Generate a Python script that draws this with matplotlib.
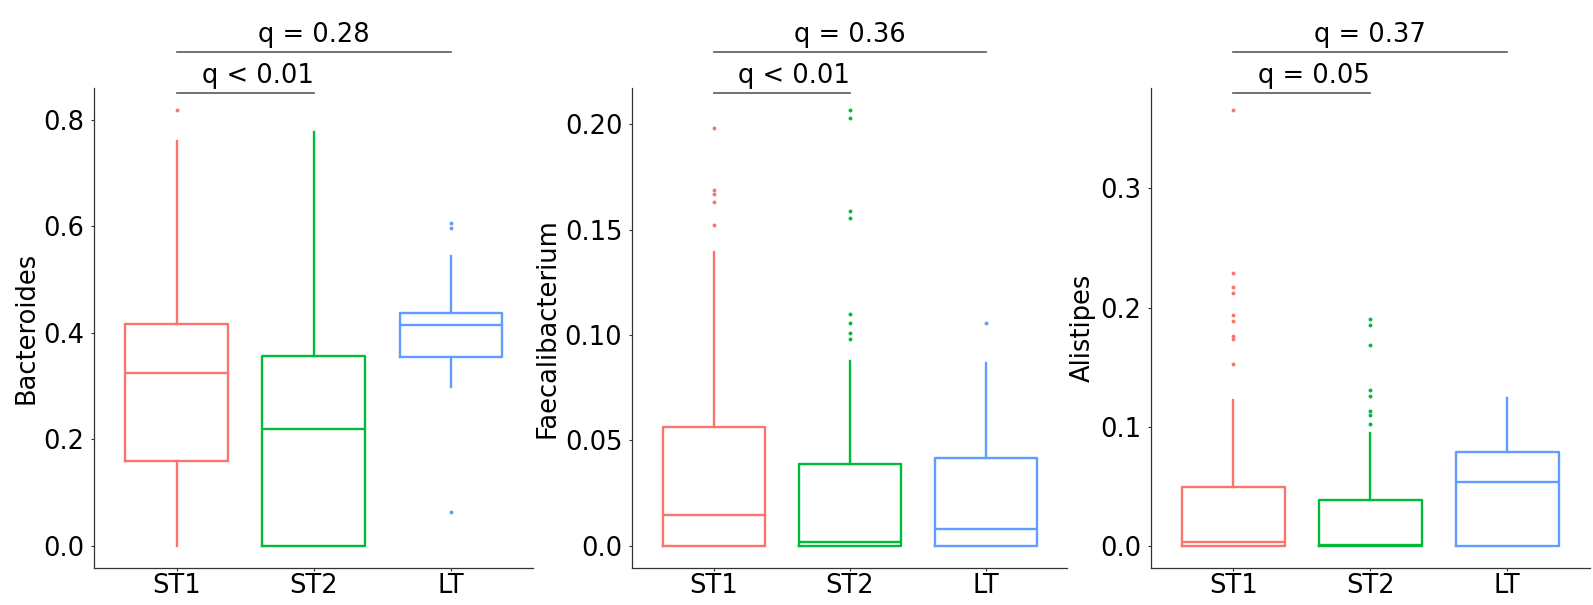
"""
Boxplots de abundância relativa (Bacteroides, Faecalibacterium, Alistipes) por grupo.
"""
import matplotlib
matplotlib.use("Agg")
import matplotlib.pyplot as plt
import matplotlib.transforms as mtransforms

groups = ["ST1", "ST2", "LT"]
colors = ["#F8766D", "#00BA38", "#619CFF"]
pairs = [(1, 2), (1, 3)]

# Bacteroides
bac_q1 = [0.159, 0.0, 0.354]
bac_med = [0.324, 0.219, 0.414]
bac_q3 = [0.416, 0.356, 0.437]
bac_lo = [0.0, 0.0, 0.298]
bac_hi = [0.760, 0.777, 0.545]
bac_out = [[0.818], [], [0.606, 0.597, 0.063]]
bac_ticks = [0.0, 0.2, 0.4, 0.6, 0.8]
bac_labels = ["0.0", "0.2", "0.4", "0.6", "0.8"]
bac_q = ["q < 0.01", "q = 0.28"]

# Faecalibacterium
fae_q1 = [0.0, 0.0, 0.0]
fae_med = [0.0145, 0.002, 0.0079]
fae_q3 = [0.0564, 0.0388, 0.0419]
fae_lo = [0.0, 0.0, 0.0]
fae_hi = [0.1394, 0.0875, 0.0869]
fae_out = [[0.198, 0.169, 0.167, 0.163, 0.152],
           [0.2067, 0.203, 0.159, 0.1555, 0.1098, 0.1056, 0.1012, 0.0979],
           [0.1056]]
fae_ticks = [0.0, 0.05, 0.10, 0.15, 0.20]
fae_labels = ["0.0", "0.05", "0.10", "0.15", "0.20"]
fae_q = ["q < 0.01", "q = 0.36"]

# Alistipes
ali_q1 = [0.0, 0.0, 0.0]
ali_med = [0.0033, 0.001, 0.054]
ali_q3 = [0.0492, 0.0385, 0.0786]
ali_lo = [0.0, 0.0, 0.0]
ali_hi = [0.1223, 0.0948, 0.1237]
ali_out = [[0.3657, 0.2288, 0.2169, 0.212, 0.194, 0.189, 0.176, 0.174, 0.153],
           [0.1906, 0.185, 0.169, 0.131, 0.126, 0.1133, 0.110, 0.1026],
           []]
ali_ticks = [0.0, 0.1, 0.2, 0.3]
ali_labels = ["0.0", "0.1", "0.2", "0.3"]
ali_q = ["q = 0.05", "q = 0.37"]

plt.rcParams["font.family"] = ["DejaVu Sans"]
AXIS_COLOR = "#333333"


def draw_panel(ax, name, q1, med, q3, lo, hi, out, ticks, labels, qtexts):
    stats = [dict(q1=a, med=m, q3=b, whislo=l, whishi=h, fliers=f)
             for a, m, b, l, h, f in zip(q1, med, q3, lo, hi, out)]
    pos = list(range(1, len(groups) + 1))
    bp = ax.bxp(stats, positions=pos, widths=0.75, showcaps=False, manage_ticks=False,
                boxprops=dict(linewidth=1.7), medianprops=dict(linewidth=1.7),
                whiskerprops=dict(linewidth=1.7),
                flierprops=dict(marker="o", markersize=2.8, markeredgewidth=0))
    for i, c in enumerate(colors):
        bp["boxes"][i].set_color(c); bp["medians"][i].set_color(c)
        bp["whiskers"][2 * i].set_color(c); bp["whiskers"][2 * i + 1].set_color(c)
        bp["fliers"][i].set_markerfacecolor(c)

    vals = [v for grp in (q1, med, q3, lo, hi) for v in grp] + [v for f in out for v in f]
    vmin, vmax = min(vals), max(vals); pad = 0.05 * (vmax - vmin)
    ax.set_ylim(vmin - pad, vmax + pad); ax.set_xlim(0.4, len(groups) + 0.6)
    ax.set_xticks(pos); ax.set_xticklabels(groups, fontsize=18.5)
    ax.set_yticks(ticks); ax.set_yticklabels(labels, fontsize=18.5)
    ax.set_ylabel(name, fontsize=18.5, labelpad=3)
    for s in ("top", "right"): ax.spines[s].set_visible(False)
    for s in ("left", "bottom"): ax.spines[s].set_color(AXIS_COLOR); ax.spines[s].set_linewidth(0.9)
    ax.tick_params(axis="both", length=2.2, width=0.8, color=AXIS_COLOR, labelcolor="black")
    ax.tick_params(axis="x", pad=1.5); ax.tick_params(axis="y", pad=5)

    # significance brackets (x in data, y in axes fraction)
    trans = mtransforms.blended_transform_factory(ax.transData, ax.transAxes)
    line_y = [0.9896, 1.0763]; text_y = [1.0104, 1.0972]; shift = [0.09, 0.0]
    for k, ((x1, x2), txt) in enumerate(zip(pairs, qtexts)):
        ax.plot([x1, x2], [line_y[k], line_y[k]], transform=trans, clip_on=False, color="#5a5a5a", lw=1.2)
        ax.text((x1 + x2) / 2 + shift[k], text_y[k], txt, transform=trans, ha="center", va="baseline",
                fontsize=18.5, color="black")


fig = plt.figure(figsize=(15.93, 6.05), dpi=100)
bottom, height = 1 - 567.7 / 605, 479.4 / 605
ax1 = fig.add_axes([94.3 / 1593, bottom, 439 / 1593, height])
ax2 = fig.add_axes([632.3 / 1593, bottom, 435 / 1593, height])
ax3 = fig.add_axes([1151 / 1593, bottom, 438.5 / 1593, height])

draw_panel(ax1, "Bacteroides", bac_q1, bac_med, bac_q3, bac_lo, bac_hi, bac_out, bac_ticks, bac_labels, bac_q)
draw_panel(ax2, "Faecalibacterium", fae_q1, fae_med, fae_q3, fae_lo, fae_hi, fae_out, fae_ticks, fae_labels, fae_q)
draw_panel(ax3, "Alistipes", ali_q1, ali_med, ali_q3, ali_lo, ali_hi, ali_out, ali_ticks, ali_labels, ali_q)

fig.savefig("out.png", dpi=100, facecolor="white")
